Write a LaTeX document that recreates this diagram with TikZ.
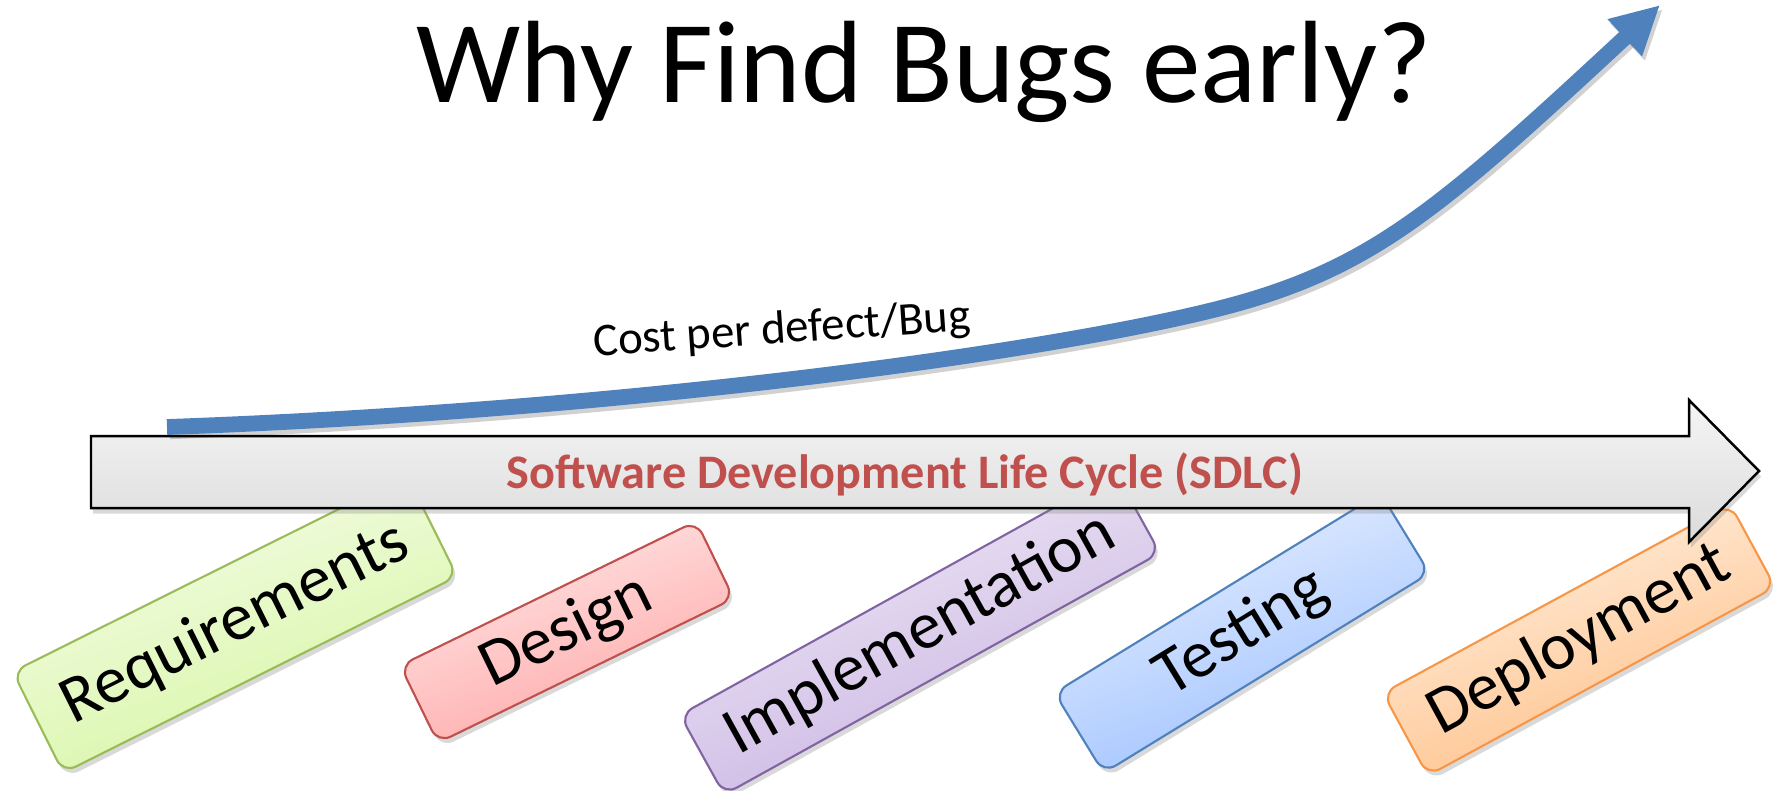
\documentclass[tikz,border=0pt]{standalone}
\usepackage{fontspec}
\setmainfont{Carlito}
\usetikzlibrary{arrows.meta,shadows}

\definecolor{costblue}{HTML}{4F81BD}
\definecolor{sdlcred}{HTML}{C0504D}
\definecolor{reqline}{HTML}{9BBB59}
\definecolor{reqtop}{HTML}{F6FDEB}
\definecolor{reqbot}{HTML}{D5F5A0}
\definecolor{desline}{HTML}{C0504D}
\definecolor{destop}{HTML}{FFE8E8}
\definecolor{desbot}{HTML}{FFA5A5}
\definecolor{impline}{HTML}{8064A2}
\definecolor{imptop}{HTML}{F0EAF6}
\definecolor{impbot}{HTML}{C8B2E2}
\definecolor{tstline}{HTML}{4F81BD}
\definecolor{tsttop}{HTML}{E8F0FF}
\definecolor{tstbot}{HTML}{9CC0FF}
\definecolor{depline}{HTML}{F79646}
\definecolor{deptop}{HTML}{FFF1E3}
\definecolor{depbot}{HTML}{FFBE84}

\begin{document}
\begin{tikzpicture}[x=0.01cm,y=-0.01cm]
        \tikzstyle{phase}=[rounded corners=4pt, line width=0.6pt, inner sep=0pt,
          font=\fontsize{19}{22}\selectfont,
          drop shadow={shadow xshift=0.8pt, shadow yshift=-1.4pt, opacity=0.3}]
        \tikzstyle{sdlcarrow}=[draw=black, line width=0.7pt, top color=gray!8, bottom color=gray!28,
          drop shadow={shadow xshift=0.6pt, shadow yshift=-1.6pt, opacity=0.3}]
        \tikzstyle{costcurve}=[draw=costblue, line width=4.5pt,
          -{Triangle[length=13.7pt,width=13.4pt]}]
        \useasboundingbox (0,0) rectangle (1777,790);
        % phases of the cycle
        \node[phase, draw=reqline, top color=reqtop, bottom color=reqbot, shading angle=20, rotate=26.5,
          minimum width=4.40cm, minimum height=1.13cm] (req) at (235,624) {Requirements};
        \node[phase, draw=desline, top color=destop, bottom color=desbot, shading angle=20, rotate=26,
          minimum width=3.29cm, minimum height=0.86cm] (des) at (567,632) {Design};
        \node[phase, draw=impline, top color=imptop, bottom color=impbot, shading angle=20, rotate=29,
          minimum width=4.98cm, minimum height=0.91cm] (imp) at (920,634) {Implementation};
        \node[phase, draw=tstline, top color=tsttop, bottom color=tstbot, shading angle=20, rotate=31.5,
          minimum width=3.82cm, minimum height=0.94cm] (tst) at (1242,633) {Testing};
        \node[phase, draw=depline, top color=deptop, bottom color=depbot, shading angle=20, rotate=28.5,
          minimum width=3.95cm, minimum height=0.94cm] (dep) at (1579,640) {Deployment};
        % the big grey arrow
        \draw[sdlcarrow] (91,436) -- (1689,436) -- (1689,400) -- (1759,471)
          -- (1689,542) -- (1689,508) -- (91,508) -- cycle;
        \node[text=sdlcred, font=\fontsize{13.7}{16}\selectfont\bfseries] (sdlc) at (905,474)
          {Software Development Life Cycle (SDLC)};
        % cost curve
        \coordinate (cstart) at (167,427);
        \coordinate (cbend) at (1250,300);
        \coordinate (ctip) at (1660,5);
        \draw[costcurve, draw=black, opacity=0.18, transform canvas={xshift=0.8pt,yshift=-1.2pt}]
          (cstart) .. controls (650,410) and (1100,345) .. (cbend)
          .. controls (1380,261) and (1450,200) .. (ctip);
        \draw[costcurve] (cstart) .. controls (650,410) and (1100,345) .. (cbend)
          .. controls (1380,261) and (1450,200) .. (ctip);
        \node[rotate=4, font=\fontsize{13.3}{16}\selectfont] (cost) at (782,331) {Cost per defect/Bug};
        \node[anchor=base, font=\fontsize{33.3}{40}\selectfont] (title) at (924,102) {Why Find Bugs early?};
\end{tikzpicture}
\end{document}
